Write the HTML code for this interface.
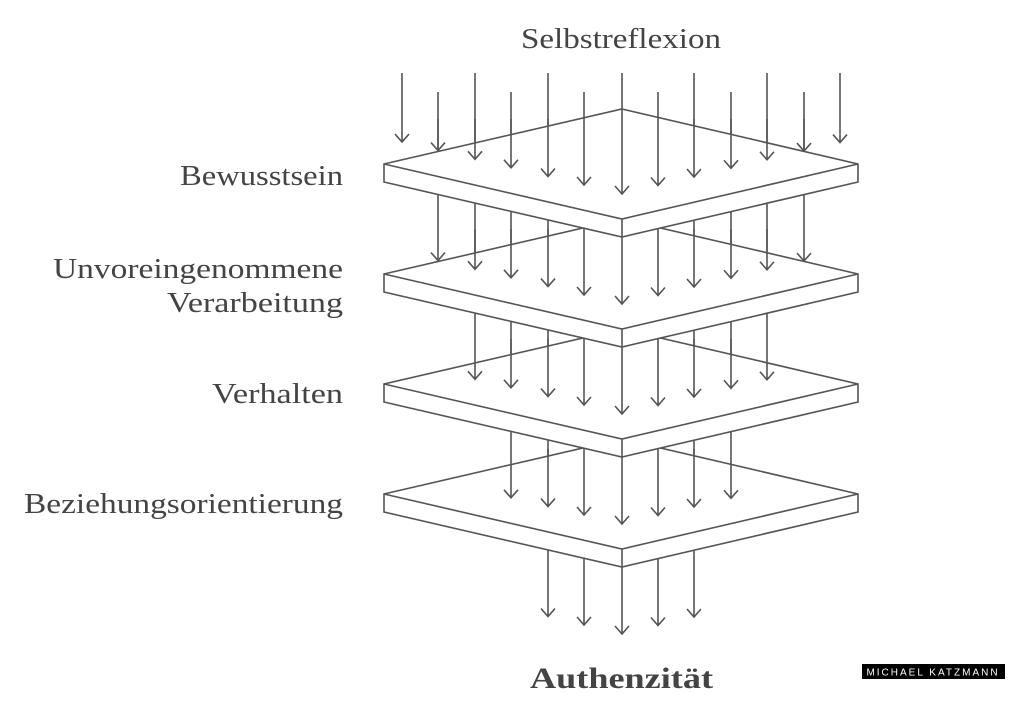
<!DOCTYPE html>
<html><head><meta charset="utf-8"><style>
body{margin:0;background:#fff;}
svg{display:block}
text{font-family:"Liberation Serif",serif;fill:#444;}
</style></head><body>
<svg width="1024" height="717" viewBox="0 0 1024 717" id="s">
<text x="521" y="48" font-size="29" textLength="200" lengthAdjust="spacingAndGlyphs">Selbstreflexion</text>
<g font-size="28" lengthAdjust="spacingAndGlyphs">
<text x="180" y="185" textLength="163" lengthAdjust="spacingAndGlyphs">Bewusstsein</text>
<text x="53" y="278" textLength="290" lengthAdjust="spacingAndGlyphs">Unvoreingenommene</text>
<text x="167" y="312" textLength="176" lengthAdjust="spacingAndGlyphs">Verarbeitung</text>
<text x="212" y="403" textLength="131" lengthAdjust="spacingAndGlyphs">Verhalten</text>
<text x="24" y="513" textLength="319" lengthAdjust="spacingAndGlyphs">Beziehungsorientierung</text>
</g>
<text x="530" y="688" font-size="30" font-weight="bold" textLength="183" lengthAdjust="spacingAndGlyphs">Authenzität</text>
<rect x="862" y="664" width="143" height="15" fill="#000"/>
<text x="933" y="675.5" font-size="10" text-anchor="middle" style="font-family:'Liberation Sans',sans-serif;fill:#fff;letter-spacing:2px">MICHAEL KATZMANN</text>
<g id="g" stroke="#555" stroke-width="1.6" fill="none"></g>
</svg>
<script>
const g=document.getElementById('g');const NS='http://www.w3.org/2000/svg';
function add(tag,a){const e=document.createElementNS(NS,tag);for(const k in a)e.setAttribute(k,a[k]);g.appendChild(e);}
const xs=[402,438,475,511,548,584,622,658,694,731,767,804,840];
function arrows(level,from,to,startFn){
 for(let i=from;i<=to;i++){const x=xs[i];
  const tip=194+110*level-Math.abs(622-x)*0.236;
  const y0=startFn(x,i);
  add('path',{d:`M${x} ${y0}V${tip}M${x-7} ${tip-8}L${x} ${tip}L${x+7} ${tip-8}`});}
}
function slab(k){const t=109+110*k;
 add('path',{d:`M622 ${t}L858 ${t+55}V${t+73}L622 ${t+128}L384 ${t+73}V${t+55}Z`,fill:'#fff'});
 add('path',{d:`M384 ${t+55}L622 ${t+110}L858 ${t+55}M622 ${t+110}V${t+128}`});}
const mid=k=>(x)=>109+110*(k-1)+10;
arrows(4,4,8,mid(4));
slab(3);arrows(3,3,9,mid(3));
slab(2);arrows(2,2,10,mid(2));
slab(1);arrows(1,1,11,mid(1));
slab(0);arrows(0,0,12,(x,i)=>i%2==0?73:92);
</script>
</body></html>
